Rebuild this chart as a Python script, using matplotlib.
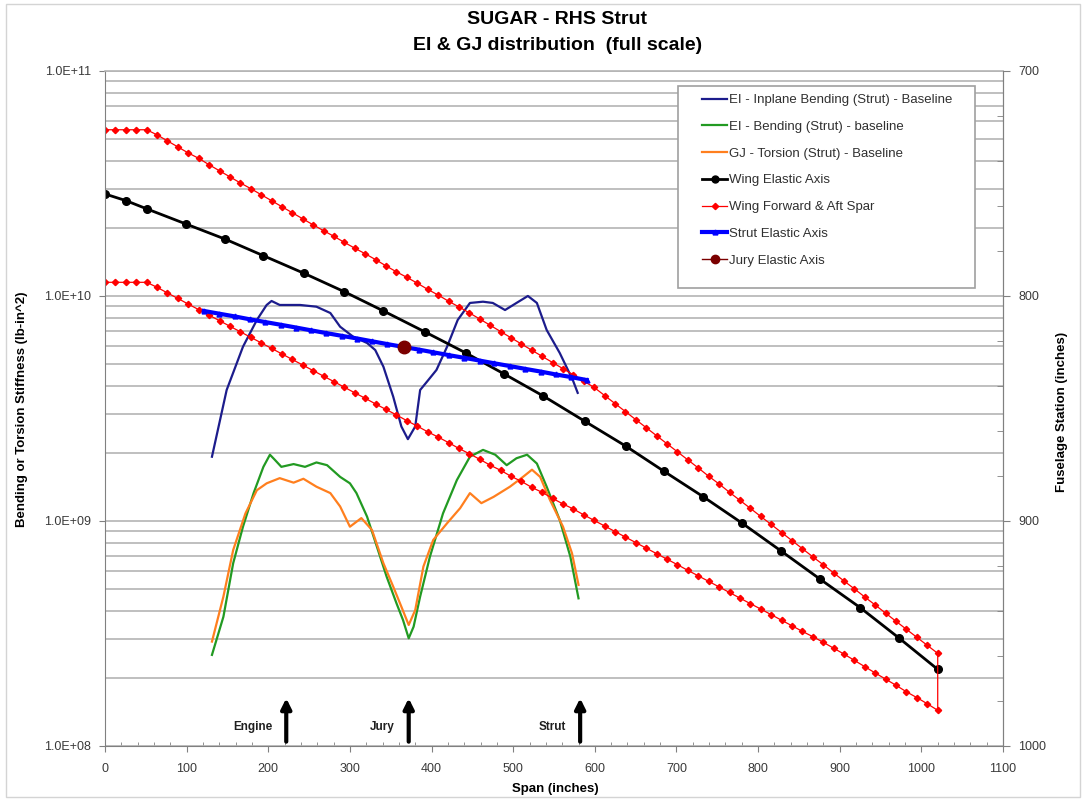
import matplotlib
matplotlib.use('Agg')
import matplotlib.pyplot as plt
from matplotlib.patches import Rectangle
from matplotlib.ticker import LogLocator, MultipleLocator, NullFormatter, FuncFormatter

plt.rcParams['font.family'] = ['Liberation Sans', 'DejaVu Sans']

# --- strut stiffness distributions (span in inches, stiffness in lb-in^2) ---
inplane_span = [131, 149, 169, 186, 198, 204, 214, 239, 259, 276, 288, 304, 321, 331, 341, 353, 363, 371,
                380, 386, 396, 406, 419, 432, 447, 463, 475, 490, 504, 518, 529, 541, 557, 573, 579]
inplane_ei = [1.93e9, 3.82e9, 5.95e9, 7.82e9, 9.12e9, 9.50e9, 9.12e9, 9.12e9, 8.96e9, 8.40e9, 7.30e9,
              6.59e9, 6.18e9, 5.75e9, 4.85e9, 3.57e9, 2.63e9, 2.31e9, 2.63e9, 3.82e9, 4.23e9, 4.69e9,
              5.95e9, 7.82e9, 9.31e9, 9.43e9, 9.31e9, 8.66e9, 9.31e9, 1.0e10, 9.31e9, 7.06e9, 5.58e9,
              4.23e9, 3.71e9]

bend_span = [131, 145, 157, 169, 182, 194, 202, 208, 216, 231, 245, 259, 272, 288, 300, 308, 321, 333,
             345, 357, 365, 372, 378, 386, 398, 414, 431, 447, 463, 478, 492, 504, 517, 529, 541, 557,
             570, 580]
bend_ei = [2.54e8, 3.75e8, 6.49e8, 9.43e8, 1.33e9, 1.74e9, 1.97e9, 1.87e9, 1.74e9, 1.79e9, 1.74e9,
           1.82e9, 1.77e9, 1.57e9, 1.47e9, 1.33e9, 1.045e9, 7.69e8, 5.65e8, 4.31e8, 3.63e8, 3.01e8,
           3.39e8, 4.61e8, 6.94e8, 1.08e9, 1.52e9, 1.93e9, 2.07e9, 1.97e9, 1.77e9, 1.90e9, 1.97e9,
           1.80e9, 1.42e9, 1.01e9, 6.94e8, 4.53e8]

tors_span = [131, 145, 157, 172, 186, 198, 214, 231, 243, 259, 276, 288, 300, 314, 327, 341, 353, 363,
             372, 380, 390, 402, 419, 435, 447, 461, 476, 496, 512, 523, 533, 545, 561, 572, 580]
tors_gj = [2.91e8, 4.61e8, 7.43e8, 1.08e9, 1.37e9, 1.47e9, 1.55e9, 1.48e9, 1.54e9, 1.42e9, 1.33e9,
           1.16e9, 9.43e8, 1.03e9, 9.12e8, 6.49e8, 5.11e8, 4.16e8, 3.45e8, 4.02e8, 6.27e8, 8.23e8,
           9.77e8, 1.14e9, 1.33e9, 1.20e9, 1.28e9, 1.42e9, 1.57e9, 1.69e9, 1.57e9, 1.24e9, 9.43e8,
           7.19e8, 5.20e8]

# --- wing ---
wing_span = [0, 26, 51, 99, 147, 194, 244, 293, 341, 392, 442, 489, 537, 588, 638, 685, 733, 780,
             828, 876, 925, 972, 1020]
wing_ea = [2.84e10, 2.65e10, 2.44e10, 2.09e10, 1.79e10, 1.51e10, 1.26e10, 1.045e10, 8.58e9, 6.92e9,
           5.58e9, 4.50e9, 3.59e9, 2.77e9, 2.15e9, 1.66e9, 1.28e9, 9.80e8, 7.36e8, 5.51e8, 4.12e8,
           3.03e8, 2.19e8]

spar_span = [0, 12.75, 25.5, 38.25, 51, 63.75, 76.5, 89.25, 102, 114.75, 127.5, 140.25, 153, 165.75,
             178.5, 191.25, 204, 216.75, 229.5, 242.25, 255, 267.75, 280.5, 293.25, 306, 318.75, 331.5,
             344.25, 357, 369.75, 382.5, 395.25, 408, 420.75, 433.5, 446.25, 459, 471.75, 484.5,
             497.25, 510, 522.75, 535.5, 548.25, 561, 573.75, 586.5, 599.25, 612, 624.75, 637.5,
             650.25, 663, 675.75, 688.5, 701.25, 714, 726.75, 739.5, 752.25, 765, 777.75, 790.5,
             803.25, 816, 828.75, 841.5, 854.25, 867, 879.75, 892.5, 905.25, 918, 930.75, 943.5,
             956.25, 969, 981.75, 994.5, 1007.25, 1020]
fwd_spar = [5.48e10, 5.48e10, 5.48e10, 5.48e10, 5.48e10, 5.20e10, 4.89e10, 4.60e10, 4.32e10, 4.09e10,
            3.83e10, 3.60e10, 3.38e10, 3.18e10, 3.00e10, 2.82e10, 2.65e10, 2.49e10, 2.34e10, 2.20e10,
            2.07e10, 1.95e10, 1.84e10, 1.73e10, 1.63e10, 1.54e10, 1.45e10, 1.36e10, 1.28e10, 1.21e10,
            1.14e10, 1.07e10, 1.01e10, 9.48e9, 8.94e9, 8.41e9, 7.90e9, 7.41e9, 6.95e9, 6.52e9,
            6.12e9, 5.74e9, 5.39e9, 5.06e9, 4.75e9, 4.46e9, 4.18e9, 3.92e9, 3.61e9, 3.32e9,
            3.06e9, 2.82e9, 2.60e9, 2.39e9, 2.20e9, 2.03e9, 1.87e9, 1.72e9, 1.58e9, 1.46e9,
            1.34e9, 1.235e9, 1.138e9, 1.047e9, 9.65e8, 8.88e8, 8.17e8, 7.53e8, 6.93e8, 6.39e8,
            5.88e8, 5.41e8, 4.99e8, 4.59e8, 4.23e8, 3.89e8, 3.58e8, 3.30e8, 3.04e8, 2.80e8, 2.58e8]
aft_spar = [1.150e10, 1.150e10, 1.150e10, 1.150e10, 1.150e10, 1.093e10, 1.031e10, 9.75e9, 9.20e9, 8.70e9,
            8.22e9, 7.77e9, 7.33e9, 6.93e9, 6.55e9, 6.19e9, 5.85e9, 5.52e9, 5.22e9, 4.93e9,
            4.66e9, 4.40e9, 4.16e9, 3.93e9, 3.71e9, 3.51e9, 3.31e9, 3.13e9, 2.96e9, 2.79e9,
            2.64e9, 2.49e9, 2.36e9, 2.23e9, 2.10e9, 1.99e9, 1.88e9, 1.77e9, 1.68e9, 1.58e9,
            1.50e9, 1.41e9, 1.34e9, 1.26e9, 1.19e9, 1.13e9, 1.064e9, 1.005e9, 9.50e8, 8.97e8,
            8.48e8, 8.01e8, 7.57e8, 7.16e8, 6.76e8, 6.39e8, 6.03e8, 5.70e8, 5.39e8, 5.09e8,
            4.81e8, 4.54e8, 4.29e8, 4.06e8, 3.83e8, 3.62e8, 3.42e8, 3.23e8, 3.06e8, 2.89e8,
            2.72e8, 2.56e8, 2.40e8, 2.25e8, 2.11e8, 1.98e8, 1.86e8, 1.74e8, 1.64e8, 1.54e8, 1.44e8]

strut_span = [121, 140, 159, 177, 196, 215, 234, 252, 271, 290, 309, 327, 346, 365, 384, 402, 421,
              440, 459, 477, 496, 515, 534, 552, 571, 590]
strut_ea = [8.58e9, 8.34e9, 8.11e9, 7.88e9, 7.66e9, 7.45e9, 7.24e9, 7.04e9, 6.84e9, 6.65e9, 6.47e9,
            6.29e9, 6.11e9, 5.94e9, 5.78e9, 5.62e9, 5.46e9, 5.31e9, 5.16e9, 5.02e9, 4.88e9, 4.74e9,
            4.61e9, 4.48e9, 4.36e9, 4.23e9]

jury_span = [366]
jury_ea = [5.95e9]

# attachment stations marked with arrows
station_names = ['Engine', 'Jury', 'Strut']
station_span = [222, 372, 582]

grid_col = '#b4b4b4'
tick_col = '#3a3a3a'

fig = plt.figure(figsize=(10.86, 8.01), dpi=100)
ax = fig.add_axes([0.0967, 0.0687, 0.8269, 0.8427])

ax.plot(inplane_span, inplane_ei, color='#1c1c8c', lw=1.6, label='EI - Inplane Bending (Strut) - Baseline')
ax.plot(bend_span, bend_ei, color='#229a22', lw=1.6, label='EI - Bending (Strut) - baseline')
ax.plot(tors_span, tors_gj, color='#ff7f1e', lw=1.6, label='GJ - Torsion (Strut) - Baseline')
ax.plot(wing_span, wing_ea, color='black', lw=2, marker='o', ms=5.5, label='Wing Elastic Axis')
ax.plot(spar_span + spar_span[::-1], fwd_spar + aft_spar[::-1], color='#ff0000', lw=0.9,
        marker='D', ms=3.2, label='Wing Forward & Aft Spar')
ax.plot(strut_span, strut_ea, color='#0000ff', lw=3, marker='^', ms=3.5, label='Strut Elastic Axis')
ax.plot(jury_span, jury_ea, color='#7b0000', lw=1, marker='o', ms=9, label='Jury Elastic Axis')

for name, s in zip(station_names, station_span):
    ax.annotate('', xy=(s, 1.63e8), xytext=(s, 1.045e8),
                arrowprops=dict(arrowstyle='-|>,head_width=0.3,head_length=0.6', lw=3,
                                color='black', shrinkA=0, shrinkB=0))
    ax.text(s - 17, 1.21e8, name, ha='right', va='center', fontsize=8.5, fontweight='bold',
            color='#202020')

ax.set_yscale('log')
ax.set_ylim(1e8, 1e11)
ax.set_xlim(0, 1100)
ax.yaxis.set_major_locator(LogLocator(base=10))
ax.yaxis.set_minor_locator(LogLocator(base=10, subs=range(2, 10)))
ax.yaxis.set_major_formatter(FuncFormatter(lambda v, p: f'{v:.1E}'))
ax.yaxis.set_minor_formatter(NullFormatter())
ax.xaxis.set_major_locator(MultipleLocator(100))
ax.xaxis.set_minor_locator(MultipleLocator(20))
ax.grid(True, which='both', axis='y', color=grid_col, lw=1.2)
ax.tick_params(axis='y', which='major', direction='out', length=4, pad=6, labelsize=9,
               labelcolor=tick_col, color='#808080')
ax.tick_params(axis='y', which='minor', length=0)
ax.tick_params(axis='x', which='major', direction='out', length=4, pad=8, labelsize=9,
               labelcolor=tick_col, color='#808080')
ax.tick_params(axis='x', which='minor', direction='in', length=3, color='#808080')
for side in ['left', 'bottom', 'right']:
    ax.spines[side].set_color('#808080')
ax.spines['top'].set_color(grid_col)
ax.spines['top'].set_linewidth(1.2)

# right axis: fuselage station
ax2 = ax.twinx()
ax2.set_ylim(1000, 700)
ax2.yaxis.set_major_locator(MultipleLocator(100))
ax2.yaxis.set_minor_locator(MultipleLocator(20))
ax2.tick_params(axis='y', which='major', direction='out', length=5, pad=6, labelsize=9,
                labelcolor=tick_col, color='#808080')
ax2.tick_params(axis='y', which='minor', direction='in', length=4, color='#808080')
for side in ['left', 'bottom', 'top']:
    ax2.spines[side].set_visible(False)
ax2.spines['right'].set_color('#808080')

# legend with its own box
ax.add_patch(Rectangle((0.6381, 0.6785), 0.3307, 0.2993, transform=ax.transAxes,
                       facecolor='white', edgecolor='#a0a0a0', lw=1.2, zorder=4))
leg = ax.legend(loc='upper left', bbox_to_anchor=(0.6648, 0.966), frameon=False, fontsize=9.5,
                handlelength=1.9, handletextpad=0.15, labelspacing=1.1, borderpad=0,
                borderaxespad=0)
leg.set_zorder(5)
for t in leg.get_texts():
    t.set_color('#303030')
leg.legend_handles[6].set_markersize(6)
leg.legend_handles[3].set_markersize(5)

fig.text(0.513, 1 - 19 / 801, 'SUGAR - RHS Strut', ha='center', va='center', fontsize=14,
         fontweight='bold')
fig.text(0.513, 1 - 45 / 801, 'EI & GJ distribution  (full scale)', ha='center', va='center',
         fontsize=14, fontweight='bold')
fig.text(22 / 1086, 1 - 409 / 801, 'Bending or Torsion Stiffness (lb-in^2)', rotation=90,
         ha='center', va='center', fontsize=9.5, fontweight='bold')
fig.text(1062 / 1086, 1 - 412 / 801, 'Fuselage Station (inches)', rotation=90,
         ha='center', va='center', fontsize=9.5, fontweight='bold')
fig.text(555 / 1086, 1 - 789 / 801, 'Span (inches)', ha='center', va='center', fontsize=9.5,
         fontweight='bold')

fig.patches.append(Rectangle((6 / 1086, 4 / 801), 1074 / 1086, 793 / 801, transform=fig.transFigure,
                             fill=False, edgecolor='#d4d4d4', lw=1))

fig.savefig('out.png', dpi=100)
